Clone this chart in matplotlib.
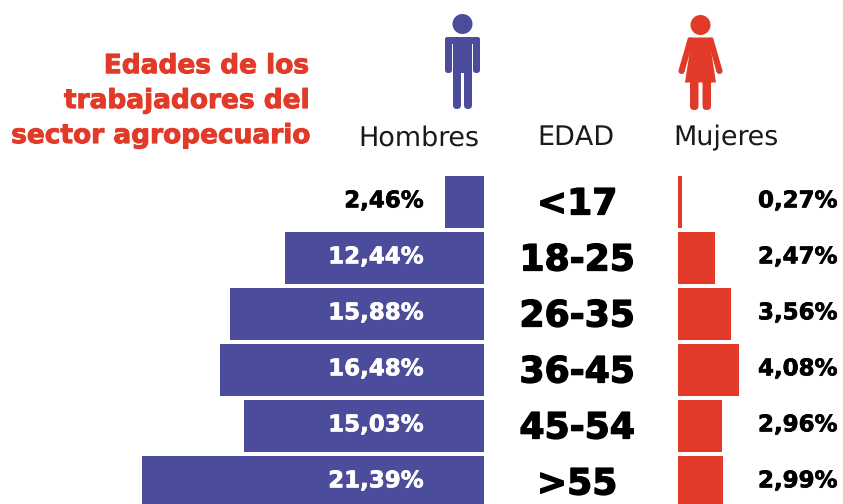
import matplotlib
matplotlib.use("Agg")
import matplotlib.pyplot as plt
import matplotlib.patheffects as pe
from matplotlib.patches import Circle, FancyBboxPatch, Polygon, Rectangle

plt.rcParams["text.hinting"] = "no_hinting"
plt.rcParams["text.hinting_factor"] = 1

ages = ["<17", "18-25", "26-35", "36-45", "45-54", ">55"]
men = [2.46, 12.44, 15.88, 16.48, 15.03, 21.39]
women = [0.27, 2.47, 3.56, 4.08, 2.96, 2.99]
title_lines = ["Edades de los", "trabajadores del", "sector agropecuario"]
headers = ["Hombres", "EDAD", "Mujeres"]

BLUE = "#4C4C9C"
RED = "#E23A28"
W, H = 843, 504
DPI = 100
BOLD = "DejaVu Sans"
REG = "DejaVu Sans"

def fmt(v):
    return f"{v:.2f}".replace(".", ",") + "%"

def heavy(color, width):
    return [pe.withStroke(linewidth=width, foreground=color)]

fig = plt.figure(figsize=(W / DPI, H / DPI), dpi=DPI, facecolor="white")

bg = fig.add_axes([0, 0, 1, 1])
bg.set_xlim(0, W)
bg.set_ylim(H, 0)
bg.axis("off")
bg.set_zorder(10)
bg.patch.set_visible(False)

rows = list(range(len(ages)))
row_px = 56
ytop = -202 / row_px
ybot = (H - 202) / row_px

axm = fig.add_axes([0, 0, 484 / W, 1])
axm.set_xlim(484 / 16, 0)
axm.set_ylim(ybot, ytop)
axm.axis("off")
axm.barh(rows, men, height=52 / row_px, color=BLUE, linewidth=0)

axw = fig.add_axes([678 / W, 0, (W - 678) / W, 1])
axw.set_xlim(0, (W - 678) / 15)
axw.set_ylim(ybot, ytop)
axw.axis("off")
axw.barh(rows, women, height=52 / row_px, color=RED, linewidth=0)

for line, y in zip(title_lines, [66, 101, 136]):
    bg.text(306, y, line, color=RED, fontsize=19, fontweight="bold", family=BOLD,
            ha="right", va="center", path_effects=heavy(RED, 0.7))

for label, x in zip(headers, [419, 576, 726]):
    bg.text(x, 138, label, color="#1a1a1a", fontsize=19.2, family=REG, ha="center", va="center")

for i, (a, m, f) in enumerate(zip(ages, men, women)):
    yc = 201 + row_px * i
    mc = "black" if m < 5 else "white"
    bg.text(424, yc, fmt(m), color=mc, fontsize=16.5, fontweight="bold", family=BOLD,
            ha="right", va="center", path_effects=heavy(mc, 0.5))
    bg.text(577, yc + 3.5, a, color="black", fontsize=26, fontweight="bold", family=BOLD,
            ha="center", va="center", path_effects=heavy("black", 1.0))
    bg.text(758, yc, fmt(f), color="black", fontsize=16.5, fontweight="bold", family=BOLD,
            ha="left", va="center", path_effects=heavy("black", 0.5))

# Male icon
bg.add_patch(Circle((462.5, 24), 10, color=BLUE, lw=0))
bg.add_patch(FancyBboxPatch((445, 37), 35, 7, boxstyle="round,pad=0,rounding_size=2.5", color=BLUE, lw=0))
bg.add_patch(FancyBboxPatch((445, 37), 7, 36, boxstyle="round,pad=0,rounding_size=3", color=BLUE, lw=0))
bg.add_patch(FancyBboxPatch((473, 37), 7, 36, boxstyle="round,pad=0,rounding_size=3", color=BLUE, lw=0))
bg.add_patch(Rectangle((453, 40), 19, 33, color=BLUE, lw=0))
bg.add_patch(FancyBboxPatch((453, 62), 8, 47, boxstyle="round,pad=0,rounding_size=4", color=BLUE, lw=0))
bg.add_patch(FancyBboxPatch((464, 62), 8, 47, boxstyle="round,pad=0,rounding_size=4", color=BLUE, lw=0))

# Female icon
bg.add_patch(Circle((700.5, 25), 10, color=RED, lw=0))
bg.add_patch(Polygon([(689, 37.5), (712, 37.5), (711, 50), (716, 82.5), (685, 82.5), (690, 50)],
                     closed=True, color=RED, lw=0))
bg.add_patch(Polygon([(688, 37.5), (694, 38), (684.5, 72), (678.5, 70.5)], closed=True, color=RED, lw=0))
bg.add_patch(Polygon([(713, 37.5), (707, 38), (716.5, 72), (722.5, 70.5)], closed=True, color=RED, lw=0))
bg.add_patch(Circle((681.5, 71), 3, color=RED, lw=0))
bg.add_patch(Circle((719.5, 71), 3, color=RED, lw=0))
bg.add_patch(FancyBboxPatch((690, 78), 8.5, 32, boxstyle="round,pad=0,rounding_size=4", color=RED, lw=0))
bg.add_patch(FancyBboxPatch((702.5, 78), 8.5, 32, boxstyle="round,pad=0,rounding_size=4", color=RED, lw=0))

fig.savefig("out.png", dpi=DPI, facecolor="white")
